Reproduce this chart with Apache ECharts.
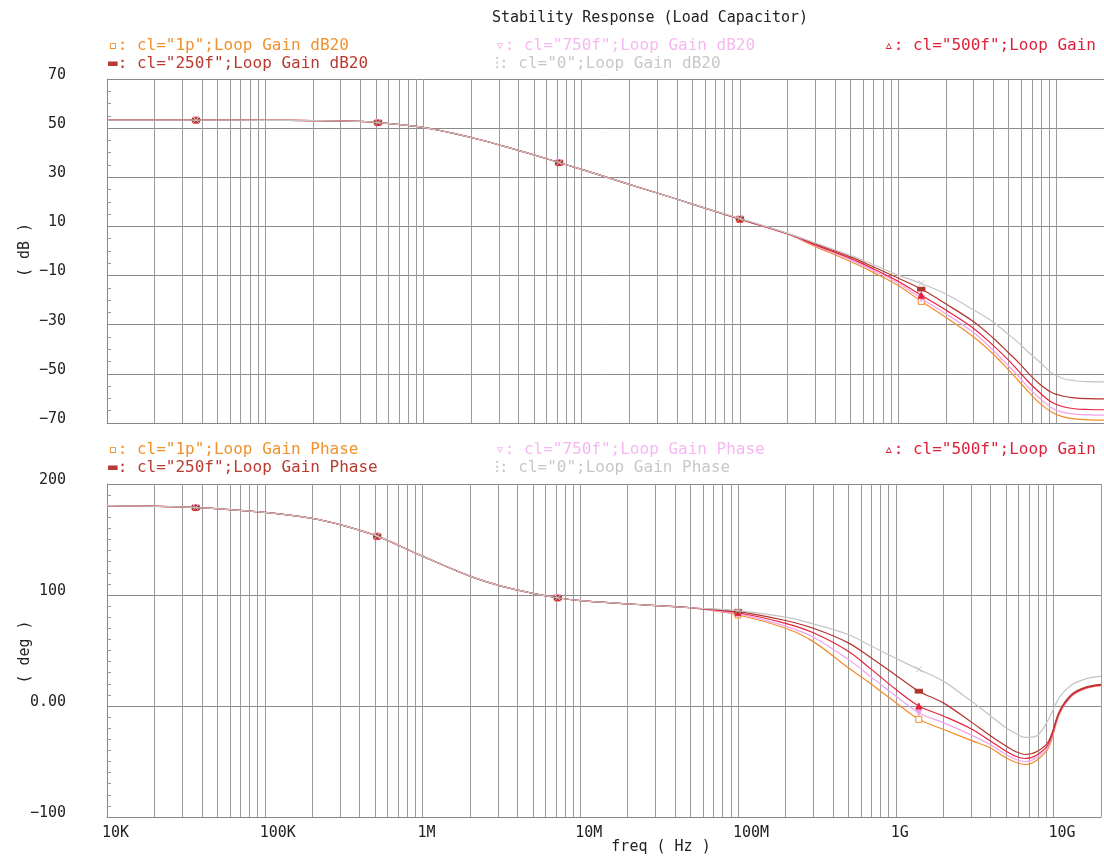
<!DOCTYPE html>
<html><head><meta charset="utf-8">
<script src="https://cdn.jsdelivr.net/npm/echarts@6/dist/echarts.min.js"></script>
<style>html,body{margin:0;padding:0;background:#fff}#c{width:1104px;height:859px}</style>
</head><body><div id="c"></div>
<script>
// ---------- data ----------
const freq = [1e4, 3.65e4, 1e5, 2e5, 3.16e5, 5.16e5, 1e6, 2e6, 3.16e6, 5e6, 7.2e6, 1e7, 2e7, 3e7, 5e7,
  1e8, 2e8, 3e8, 5e8, 7e8, 1e9, 1.4e9, 2e9, 3e9, 4e9, 5e9, 5.8e9, 6.6e9, 7.8e9, 9.3e9, 1.09e10, 1.3e10, 1.6e10, 2e10];
const markerFreq = [3.65e4, 5.16e5, 7.2e6, 1e8, 1.4e9];

const gain_1p   = [53.3, 53.3, 53.2, 53.1, 52.9, 52.3, 50.3, 46.2, 42.8, 39.1, 36.0, 33.2, 27.1, 23.6, 19.1,
  12.9, 6.8, 1.8, -4.3, -8.8, -14.0, -20.5, -27.0, -35.0, -42.0, -48.5, -53.0, -57.0, -61.8, -65.5, -67.4, -68.3, -68.7, -68.8];
const gain_750f = [53.3, 53.3, 53.2, 53.1, 52.9, 52.3, 50.3, 46.2, 42.8, 39.1, 36.0, 33.2, 27.1, 23.6, 19.1,
  13.0, 6.9, 2.2, -3.6, -8.0, -13.0, -19.3, -25.5, -33.2, -40.5, -46.8, -51.2, -55.3, -59.8, -63.8, -65.6, -66.4, -66.7, -66.8];
const gain_500f = [53.3, 53.3, 53.2, 53.1, 52.9, 52.3, 50.3, 46.2, 42.8, 39.1, 36.0, 33.2, 27.1, 23.6, 19.1,
  13.0, 7.0, 2.5, -3.0, -7.3, -12.3, -18.0, -24.0, -31.5, -38.5, -44.5, -49.0, -53.0, -57.5, -61.5, -63.3, -64.2, -64.5, -64.6];
const gain_250f = [53.3, 53.3, 53.2, 53.1, 52.9, 52.3, 50.3, 46.2, 42.8, 39.1, 36.0, 33.2, 27.1, 23.6, 19.1,
  13.1, 7.1, 2.9, -2.4, -6.5, -11.0, -15.5, -21.5, -28.8, -35.5, -41.5, -45.5, -49.5, -54.0, -57.5, -59.0, -59.8, -60.1, -60.2];
const gain_0    = [53.3, 53.3, 53.2, 53.1, 52.9, 52.3, 50.3, 46.2, 42.8, 39.1, 36.0, 33.2, 27.1, 23.6, 19.1,
  13.2, 7.2, 3.2, -1.8, -5.6, -9.8, -13.2, -17.5, -24.0, -29.0, -34.0, -37.5, -41.0, -45.0, -49.5, -51.8, -52.8, -53.2, -53.3];

const phase_1p   = [180.5, 178.8, 174.5, 169, 162.5, 153, 135, 117, 108, 101.5, 97.5, 95, 92, 90.5, 88.5,
  82, 70, 58, 34.4, 19.6, 3, -12, -21, -31, -38, -46.7, -50.9, -52.7, -49, -37.7, -7.5, 8.8, 15.7, 18.4];
const phase_750f = [180.5, 178.8, 174.5, 169, 162.5, 153, 135, 117, 108, 101.5, 97.5, 95, 92, 90.5, 88.5,
  83, 72, 62, 42, 26, 9, -6, -15, -26, -35, -43.7, -48.2, -50, -46.7, -36, -6.8, 9, 16, 18.6];
const phase_500f = [180.5, 178.8, 174.5, 169, 162.5, 153, 135, 117, 108, 101.5, 97.5, 95, 92, 90.5, 88.5,
  84, 74.5, 66, 49.4, 33, 15, 0, -9, -20.5, -31.7, -40.7, -45.5, -47.3, -44.3, -34, -6, 9.4, 16.3, 18.8];
const phase_250f = [180.5, 178.8, 174.5, 169, 162.5, 153, 135, 117, 108, 101.5, 97.5, 95, 92, 90.5, 88.5,
  85, 77, 70, 56.9, 43.2, 27.8, 13.3, 2.8, -14.3, -27, -36, -41.3, -43.7, -41.3, -31.7, -4.7, 10.3, 17, 19.5];
const phase_0    = [180.5, 178.8, 174.5, 169, 162.5, 153, 135, 117, 108, 101.5, 97.5, 95, 92, 90.5, 88.5,
  86, 80, 74, 64.4, 54, 43, 33, 22.4, 4.5, -9, -19.7, -25, -28.3, -27, -12, 8, 19, 24.5, 27];

const xTickValues = [1e4, 1e5, 1e6, 1e7, 1e8, 1e9, 1e10];
const xTickLabels = ['10K', '100K', '1M', '10M', '100M', '1G', '10G'];
const phaseZeroLabel = '0.00';

const titleText = 'Stability Response (Load Capacitor)';
const gainLegend = [
  '▫: cl="1p";Loop Gain dB20', '▬: cl="250f";Loop Gain dB20',
  '▿: cl="750f";Loop Gain dB20', '⁝: cl="0";Loop Gain dB20',
  '▵: cl="500f";Loop Gain'];
const phaseLegend = [
  '▫: cl="1p";Loop Gain Phase', '▬: cl="250f";Loop Gain Phase',
  '▿: cl="750f";Loop Gain Phase', '⁝: cl="0";Loop Gain Phase',
  '▵: cl="500f";Loop Gain'];

// ---------- styling ----------
const COL = {p1: '#f28c28', f750: '#f0a2ec', f500: '#e8203c', f250: '#b0352c', z: '#c4c4c4'};
const TXT = {p1: '#f0922e', f750: '#f5b8f0', f500: '#e0203a', f250: '#b83a30', z: '#c8c8c8'};
const FONT = 'DejaVu Sans Mono';
const GRIDC = '#9a9a9a';

const minorX = [];
for (let e = 4; e <= 10; e++) for (let m = 2; m <= 9; m++) { const v = m * Math.pow(10, e); if (v < 2e10) minorX.push({xAxis: v}); }

function zip(vals) { return freq.map((f, i) => [f, vals[i]]); }
function isMarker(f) { return markerFreq.some(m => Math.abs(m - f) / m < 1e-6); }

const specs = [
  {key: 'p1', g: gain_1p, p: phase_1p, symbol: 'rect', hollow: true},
  {key: 'f750', g: gain_750f, p: phase_750f, symbol: 'triangle', rot: 180},
  {key: 'f500', g: gain_500f, p: phase_500f, symbol: 'triangle'},
  {key: 'f250', g: gain_250f, p: phase_250f, symbol: 'rect', size: [7, 4]},
  {key: 'z', g: gain_0, p: phase_0, symbol: 'path://M0,0L10,10M10,0L0,10'}
];

const series = [];
[0, 1].forEach(gi => {
  specs.forEach((s, k) => {
    const c = COL[s.key];
    const ser = {
      type: 'line', xAxisIndex: gi, yAxisIndex: gi,
      data: zip(gi === 0 ? s.g : s.p),
      smooth: 0.35, showSymbol: true, animation: false, z: 3 + k,
      symbol: s.symbol, symbolRotate: s.rot || 0,
      symbolSize: (v) => isMarker(v[0]) ? (s.size || 6) : 0,
      lineStyle: {color: c, width: 1.2},
      itemStyle: {color: s.hollow ? '#fff' : c, borderColor: c, borderWidth: 1}
    };
    if (k === specs.length - 1) {
      ser.markLine = {silent: true, symbol: 'none', animation: false, label: {show: false},
        lineStyle: {color: GRIDC, type: 'solid', width: 1}, data: minorX, z: 1};
    }
    series.push(ser);
  });
});

function fmtNum(v) { return v < 0 ? '−' + Math.abs(v) : String(v); }

const yCommon = {
  axisLine: {show: true, lineStyle: {color: '#888'}},
  axisTick: {show: true, inside: true, length: 5, lineStyle: {color: '#888'}},
  minorTick: {show: true, length: 4, lineStyle: {color: '#999'}},
  splitLine: {show: true, lineStyle: {color: '#8a8a8a'}},
};

const labelFont = {fontFamily: FONT, fontSize: 15, color: '#222'};

const option = {
  backgroundColor: '#fff',
  animation: false,
  grid: [
    {left: 107, right: 0, top: 79, height: 344, containLabel: false},
    {left: 107, right: 0, top: 484, height: 333, containLabel: false}
  ],
  xAxis: [0, 1].map(gi => ({
    gridIndex: gi, type: 'log', logBase: 10, min: 1e4, max: 2e10,
    axisLine: {show: true, onZero: false, lineStyle: {color: '#888'}},
    axisTick: {show: false},
    splitLine: {show: true, lineStyle: {color: GRIDC}},
    axisLabel: gi === 0 ? {show: false} : Object.assign({
      show: true, margin: 9, align: 'left', padding: [0, 0, 0, -5],
      showMinLabel: true, showMaxLabel: true, hideOverlap: false,
      formatter: (v) => {
        const i = xTickValues.findIndex(t => Math.abs(Math.log10(v) - Math.log10(t)) < 1e-6);
        return i >= 0 ? xTickLabels[i] : '';
      }
    }, labelFont)
  })),
  yAxis: [
    Object.assign({gridIndex: 0, type: 'value', min: -70, max: 70, interval: 20,
      minorTick: Object.assign({}, yCommon.minorTick, {splitNumber: 4}),
      axisLabel: Object.assign({margin: 41, verticalAlign: 'bottom', lineHeight: 8, formatter: fmtNum}, labelFont)
    }, {axisLine: yCommon.axisLine, axisTick: yCommon.axisTick, splitLine: yCommon.splitLine}),
    Object.assign({gridIndex: 1, type: 'value', min: -100, max: 200, interval: 100,
      minorTick: Object.assign({}, yCommon.minorTick, {splitNumber: 10}),
      axisLabel: Object.assign({margin: 41, verticalAlign: 'bottom', lineHeight: 8,
        formatter: v => v === 0 ? phaseZeroLabel : fmtNum(v)}, labelFont)
    }, {axisLine: yCommon.axisLine, axisTick: yCommon.axisTick, splitLine: yCommon.splitLine})
  ],
  graphic: [
    {type: 'text', x: 492, y: 18, style: {text: titleText, fill: '#222', font: '15px ' + FONT, verticalAlign: 'middle'}},
    // gain legend
    {type: 'text', x: 108, y: 46, style: {text: gainLegend[0], fill: TXT.p1, font: '16px ' + FONT, verticalAlign: 'middle'}},
    {type: 'text', x: 108, y: 64, style: {text: gainLegend[1], fill: TXT.f250, font: '16px ' + FONT, verticalAlign: 'middle'}},
    {type: 'text', x: 495, y: 46, style: {text: gainLegend[2], fill: TXT.f750, font: '16px ' + FONT, verticalAlign: 'middle'}},
    {type: 'text', x: 495, y: 64, style: {text: gainLegend[3], fill: TXT.z, font: '16px ' + FONT, verticalAlign: 'middle'}},
    {type: 'text', x: 884, y: 46, style: {text: gainLegend[4], fill: TXT.f500, font: '16px ' + FONT, verticalAlign: 'middle'}},
    // phase legend
    {type: 'text', x: 108, y: 450, style: {text: phaseLegend[0], fill: TXT.p1, font: '16px ' + FONT, verticalAlign: 'middle'}},
    {type: 'text', x: 108, y: 468, style: {text: phaseLegend[1], fill: TXT.f250, font: '16px ' + FONT, verticalAlign: 'middle'}},
    {type: 'text', x: 495, y: 450, style: {text: phaseLegend[2], fill: TXT.f750, font: '16px ' + FONT, verticalAlign: 'middle'}},
    {type: 'text', x: 495, y: 468, style: {text: phaseLegend[3], fill: TXT.z, font: '16px ' + FONT, verticalAlign: 'middle'}},
    {type: 'text', x: 884, y: 450, style: {text: phaseLegend[4], fill: TXT.f500, font: '16px ' + FONT, verticalAlign: 'middle'}},
    // axis names
    {type: 'text', x: 25, y: 250, rotation: Math.PI / 2, style: {text: '( dB )', fill: '#222', font: '15px ' + FONT, align: 'center', verticalAlign: 'middle'}},
    {type: 'text', x: 25, y: 652, rotation: Math.PI / 2, style: {text: '( deg )', fill: '#222', font: '15px ' + FONT, align: 'center', verticalAlign: 'middle'}},
    {type: 'text', x: 661, y: 847, style: {text: 'freq ( Hz )', fill: '#222', font: '15px ' + FONT, align: 'center', verticalAlign: 'middle'}}
  ],
  series: series
};

const chart = echarts.init(document.getElementById('c'), null, {renderer: 'canvas'});
chart.setOption(option);
</script>
</body></html>
